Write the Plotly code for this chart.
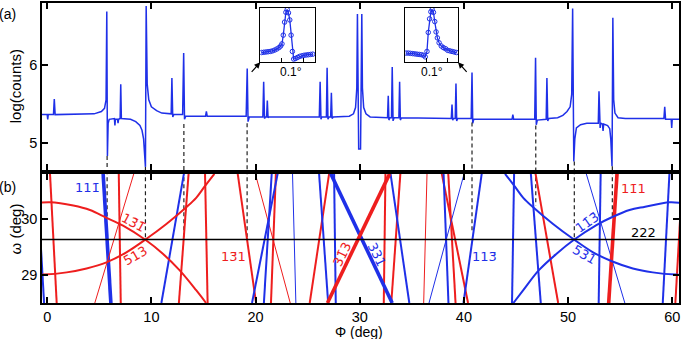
import plotly.graph_objects as go

BLUE = "#1f30e8"
RED = "#ee1e1e"

# ---------------- panel (a): measured scan ----------------
phi_a = [-0.5, 0.0, 0.05, 0.1, 0.6, 0.68, 0.76, 4.5, 5.2, 5.5, 5.65, 5.72, 5.78, 5.85, 5.95,
         6.45, 6.5, 6.55, 6.75, 6.8, 6.85, 7.0, 7.06, 7.12, 8.0, 8.5, 8.9, 9.1, 9.25, 9.35,
         9.43, 9.5, 9.6, 9.75, 10.0, 10.5, 11.0, 11.9, 11.97, 12.05, 12.15, 13.0, 13.1, 13.18,
         13.3, 15.2, 15.28, 15.36, 19.1, 19.2, 19.28, 19.4, 20.7, 20.78, 20.86, 20.95, 21.06,
         21.13, 21.2, 21.3, 26.12, 26.2, 26.28, 26.35, 26.8, 26.87, 26.95, 27.05, 27.21, 27.28,
         27.35, 27.45, 29.0, 29.4, 29.6, 29.72, 29.78, 29.9, 30.08, 30.2, 30.26, 30.38, 30.6,
         31.0, 32.67, 32.74, 32.8, 32.9, 33.05, 33.12, 33.2, 33.3, 33.76, 33.83, 33.9, 34.0,
         38.79, 38.86, 38.93, 39.0, 39.17, 39.24, 39.31, 39.4, 40.7, 40.78, 40.85, 40.95,
         44.62, 44.7, 44.78, 46.8, 46.88, 46.95, 47.05, 47.9, 47.97, 48.05, 48.15, 49.0, 49.5,
         49.9, 50.2, 50.35, 50.44, 50.55, 50.65, 50.8, 51.2, 51.8, 52.9, 52.97, 53.04, 53.08,
         53.13, 53.3, 53.36, 53.42, 53.8, 54.0, 54.1, 54.22, 54.3, 54.38, 54.5, 54.8, 55.5,
         59.2, 59.28, 59.36, 59.9, 59.95, 60.0, 60.7]
log_a = [5.36, 5.36, 5.30, 5.36, 5.36, 5.56, 5.36, 5.37, 5.40, 5.44, 5.55, 6.68, 4.83, 5.25, 5.30,
         5.31, 5.22, 5.30, 5.30, 5.25, 5.30, 5.31, 5.75, 5.31, 5.30, 5.27, 5.22, 5.16, 5.05, 4.90,
         4.69, 6.75, 5.75, 5.55, 5.46, 5.41, 5.38, 5.37, 5.83, 5.33, 5.36, 5.36, 6.15, 5.30,
         5.34, 5.34, 5.40, 5.34, 5.34, 5.95, 5.27, 5.33, 5.33, 5.78, 5.31, 5.33, 5.33,
         5.54, 5.32, 5.33, 5.33, 5.78, 5.30, 5.33, 5.33, 5.96, 5.30, 5.33, 5.33, 5.64,
         5.31, 5.33, 5.34, 5.37, 5.45, 5.70, 6.65, 4.92, 4.92, 6.65, 5.70, 5.45, 5.37,
         5.33, 5.32, 5.60, 5.29, 5.32, 5.32, 5.97, 5.28, 5.32, 5.32, 5.78, 5.29, 5.32,
         5.31, 5.49, 5.29, 5.31, 5.31, 5.76, 5.28, 5.31, 5.31, 5.90, 5.25, 5.30,
         5.30, 5.36, 5.30, 5.30, 6.09, 5.23, 5.29, 5.30, 5.83, 5.28, 5.31, 5.32, 5.35,
         5.40, 5.46, 5.62, 6.72, 4.76, 5.05, 5.19, 5.23, 5.25, 5.25, 5.66, 5.24, 5.19,
         5.25, 5.24, 5.15, 5.24, 5.22, 5.18, 5.05, 4.70, 6.60, 5.55, 5.38, 5.32, 5.31,
         5.31, 5.46, 5.30, 5.30, 5.19, 5.30, 5.30]

# insets (offset in deg, normalised intensity)
ins1_d = [-0.092, -0.082, -0.072, -0.062, -0.052, -0.042, -0.032, -0.022, -0.012, -0.004, 0.002,
          0.008, 0.014, 0.020, 0.026, 0.032, 0.038, 0.044, 0.050, 0.056, 0.064, 0.074, 0.084,
          0.094, 0.104, 0.114, 0.124, 0.134, 0.144]
ins1_y = [0.18, 0.185, 0.19, 0.195, 0.20, 0.21, 0.225, 0.245, 0.27, 0.30, 0.34,
          0.50, 0.74, 0.92, 0.97, 0.91, 0.78, 0.50, 0.20, 0.06, 0.07, 0.09, 0.11,
          0.12, 0.13, 0.135, 0.14, 0.145, 0.15]
ins2_d = [-0.092, -0.082, -0.072, -0.062, -0.052, -0.042, -0.032, -0.022, -0.012, -0.004, 0.004,
          0.010, 0.016, 0.022, 0.028, 0.034, 0.040, 0.046, 0.052, 0.060, 0.070, 0.080, 0.090,
          0.100, 0.110, 0.120, 0.130, 0.140]
ins2_y = [0.17, 0.17, 0.165, 0.16, 0.155, 0.15, 0.145, 0.14, 0.13, 0.10, 0.20,
          0.55, 0.80, 0.93, 0.97, 0.92, 0.75, 0.56, 0.45, 0.36, 0.30, 0.27, 0.25,
          0.22, 0.21, 0.20, 0.19, 0.18]

# dashed markers linking (a) and (b)
dash_phi = [5.75, 9.43, 13.12, 19.19, 40.78, 46.9, 50.6, 54.25]
dash_a_from = [4.83, 4.69, 5.24, 5.25, 5.26, 5.22, 4.76, 4.70]
dash_b_to = [30.03, 29.63, 29.66, 29.63, 29.76, 30.24, 29.63, 30.05]

# ---------------- panel (b): simulated lines ----------------
OM_TOP, OM_BOT = 30.81, 28.49
line_phi_top = [0.27, 5.37, 8.31, 6.87, 13.12, 13.57, 15.15, 18.29, 19.98, 22.12, 21.55, 21.95,
                23.55, 27.06, 26.10, 27.54, 32.87, 27.22, -1.0,
                59.73, 54.70, 51.75, 53.13, 46.88, 46.43, 44.82, 41.71, 40.02, 37.88, 38.50,
                38.05, 36.46, 32.96, 33.90, 32.47, 61.0]
line_phi_bot = [0.91, 6.11, 4.57, 7.06, 10.96, 12.64, 15.40, 20.05, 23.33, 19.66, 20.80, 21.48,
                23.87, 25.20, 26.97, 27.70, 26.90, 33.12, -0.3,
                59.09, 53.90, 55.45, 52.94, 49.05, 47.38, 44.62, 39.96, 36.65, 40.40, 39.20,
                38.52, 36.14, 34.76, 33.03, 32.31, 60.3]
line_domain = ["r", "b", "r", "r", "b", "r", "r", "r", "r", "b", "b", "r",
               "b", "r", "b", "b", "r", "b", "b",
               "b", "r", "b", "b", "r", "b", "b", "b", "b", "r", "r",
               "b", "r", "b", "r", "r", "r"]
line_strength = ["m", "s", "w", "m", "m", "m", "m", "m", "w", "m", "m", "m",
                 "w", "m", "m", "m", "s", "s", "m",
                 "m", "s", "w", "m", "m", "m", "m", "m", "w", "m", "m",
                 "m", "w", "m", "m", "m", "m"]

curveA_phi = [-0.69, 0.27, 2.5, 4.1, 5.69, 7.28, 9.39, 11.1, 12.7, 14.3, 15.25]
curveA_om = [30.29, 30.30, 30.24, 30.16, 30.02, 29.88, 29.63, 29.375, 29.08, 28.72, 28.49]
curveB_phi = [-0.69, -0.37, 1.87, 3.78, 5.69, 7.6, 9.43, 11.44, 13.35, 14.3, 15.1, 16.05]
curveB_om = [29.0, 29.0, 29.04, 29.11, 29.22, 29.40, 29.63, 29.91, 30.21, 30.38, 30.58, 30.81]
curveC_phi = [44.75, 45.7, 47.2, 48.9, 50.6, 52.72, 54.2, 55.9, 57.4, 59.73, 60.7]
curveC_om = [28.49, 28.72, 29.08, 29.375, 29.63, 29.89, 30.03, 30.16, 30.22, 30.30, 30.29]
curveD_phi = [43.95, 44.9, 45.7, 46.65, 48.56, 50.57, 52.4, 54.2, 56.22, 58.13, 60.37, 60.7]
curveD_om = [30.81, 30.58, 30.38, 30.21, 29.91, 29.63, 29.40, 29.24, 29.11, 29.04, 29.0, 29.0]
omega_scan = 29.63

labels = [
    # text, phi, omega, colour, angle
    ("11" + "1\u0304", 3.86, 30.56, BLUE, 0),
    ("13\u03041\u0304", 8.25, 29.93, RED, 28),
    ("513", 8.5, 29.34, RED, -30),
    ("13\u03041", 17.88, 29.33, RED, 0),
    ("31\u03043", 28.31, 29.36, RED, -64),
    ("331", 31.66, 29.37, BLUE, 64),
    ("113\u0304", 42.0, 29.33, BLUE, 0),
    ("11\u03043\u0304", 51.85, 29.93, BLUE, -35),
    ("531", 51.56, 29.36, BLUE, 30),
    ("11\u03041", 56.3, 30.54, RED, 0),
    ("222", 57.2, 29.76, "black", 0),
]

XR = [-0.5, 60.65]
fig = go.Figure()

fig.add_trace(go.Scatter(x=phi_a, y=log_a, mode="lines", line=dict(color=BLUE, width=1.5),
                         xaxis="x", yaxis="y", showlegend=False, hoverinfo="skip"))

# dashed lines
for p, a0, b1 in zip(dash_phi, dash_a_from, dash_b_to):
    fig.add_trace(go.Scatter(x=[p, p], y=[a0, 4.5], mode="lines",
                             line=dict(color="#222", width=1.2, dash="4px,3px"),
                             xaxis="x", yaxis="y", showlegend=False, hoverinfo="skip"))
    fig.add_trace(go.Scatter(x=[p, p], y=[31.0, b1], mode="lines",
                             line=dict(color="#222", width=1.2, dash="4px,3px"),
                             xaxis="x2", yaxis="y2", showlegend=False, hoverinfo="skip"))

# straight lines in (b)
widths = {"s": 3.6, "m": 2.0, "w": 1.0}
cols = {"r": RED, "b": BLUE}
groups = {}
for pt, pb, d, s in zip(line_phi_top, line_phi_bot, line_domain, line_strength):
    g = groups.setdefault((d, s), ([], []))
    g[0].extend([pt, pb, None])
    g[1].extend([OM_TOP, OM_BOT, None])
for (d, s), (xs, ys) in groups.items():
    fig.add_trace(go.Scatter(x=xs, y=ys, mode="lines", line=dict(color=cols[d], width=widths[s]),
                             xaxis="x2", yaxis="y2", showlegend=False, hoverinfo="skip"))

for cx, cy, c in [(curveA_phi, curveA_om, RED), (curveB_phi, curveB_om, RED),
                  (curveC_phi, curveC_om, BLUE), (curveD_phi, curveD_om, BLUE)]:
    fig.add_trace(go.Scatter(x=cx, y=cy, mode="lines", line=dict(color=c, width=2.0, shape="spline"),
                             xaxis="x2", yaxis="y2", showlegend=False, hoverinfo="skip"))

fig.add_trace(go.Scatter(x=XR, y=[omega_scan, omega_scan], mode="lines",
                         line=dict(color="black", width=1.5),
                         xaxis="x2", yaxis="y2", showlegend=False, hoverinfo="skip"))

# insets
for d, yv, xa, ya in [(ins1_d, ins1_y, "x3", "y3"), (ins2_d, ins2_y, "x4", "y4")]:
    fig.add_trace(go.Scatter(x=d, y=yv, mode="lines+markers",
                             line=dict(color=BLUE, width=1.3),
                             marker=dict(symbol="circle-open", size=4.5, color=BLUE, line=dict(width=1)),
                             xaxis=xa, yaxis=ya, showlegend=False, hoverinfo="skip"))

FONT = "Liberation Sans, Arial, sans-serif"
ax_common = dict(showline=True, linecolor="black", linewidth=1.5, mirror="ticks",
                 ticks="inside", ticklen=6, tickwidth=1.5, tickcolor="black",
                 showgrid=False, zeroline=False, tickfont=dict(family=FONT, size=14.5, color="black"))

fig.update_layout(
    width=682, height=339, margin=dict(l=42, r=1, t=1, b=36),
    paper_bgcolor="white", plot_bgcolor="white",
    xaxis=dict(domain=[0, 1], range=XR, anchor="y", tickvals=[0, 10, 20, 30, 40, 50, 60],
               showticklabels=False, **ax_common),
    yaxis=dict(domain=[0.4437, 1], range=[4.652, 6.79], anchor="x", tickvals=[5, 6], **ax_common),
    xaxis2=dict(domain=[0, 1], range=XR, anchor="y2", tickvals=[0, 10, 20, 30, 40, 50, 60], **ax_common),
    yaxis2=dict(domain=[0, 0.4305], range=[OM_BOT, OM_TOP], anchor="x2", tickvals=[29, 30], **ax_common),
    xaxis3=dict(domain=[0.3427, 0.4288], range=[-0.098, 0.155], anchor="y3", tickvals=[0, 0.1],
                showticklabels=False, showline=True, mirror=True, linecolor="black", linewidth=1.2,
                ticks="inside", ticklen=4, tickcolor="black", showgrid=False, zeroline=False),
    yaxis3=dict(domain=[0.8023, 0.9834], range=[0, 1], anchor="x3", showticklabels=False,
                showline=True, mirror=True, linecolor="black", linewidth=1.2, ticks="",
                showgrid=False, zeroline=False),
    xaxis4=dict(domain=[0.5692, 0.6531], range=[-0.0995, 0.1475], anchor="y4", tickvals=[0, 0.1],
                showticklabels=False, showline=True, mirror=True, linecolor="black", linewidth=1.2,
                ticks="inside", ticklen=4, tickcolor="black", showgrid=False, zeroline=False),
    yaxis4=dict(domain=[0.8023, 0.9834], range=[0, 1], anchor="x4", showticklabels=False,
                showline=True, mirror=True, linecolor="black", linewidth=1.2, ticks="",
                showgrid=False, zeroline=False),
)

ann = []
for t, p, o, c, a in labels:
    ann.append(dict(text=t, x=p, y=o, xref="x2", yref="y2", showarrow=False, textangle=a,
                    xanchor="center", yanchor="middle",
                    font=dict(family="DejaVu Sans, sans-serif", size=13, color=c)))
C = dict(xref="paper", yref="paper", showarrow=False, xanchor="center", yanchor="middle")
ann += [
    dict(text="(a)", x=-0.054, y=0.9636, font=dict(family=FONT, size=14, color="black"), **C),
    dict(text="(b)", x=-0.054, y=0.387, font=dict(family=FONT, size=14, color="black"), **C),
    dict(text="log(counts)", x=-0.041, y=0.722, textangle=-90,
         font=dict(family=FONT, size=15, color="black"), **C),
    dict(text="\u03c9 (deg)", x=-0.041, y=0.248, textangle=-90,
         font=dict(family=FONT, size=15, color="black"), **C),
    dict(text="\u03a6 (deg)", x=0.4977, y=-0.098, font=dict(family=FONT, size=14, color="black"), **C),
    dict(text="0.1\u00b0", x=0.3908, y=0.7715, font=dict(family=FONT, size=12, color="black"), **C),
    dict(text="0.1\u00b0", x=0.613, y=0.7715, font=dict(family=FONT, size=12, color="black"), **C),
    dict(text="", x=0.3427, y=0.8023, xref="paper", yref="paper", showarrow=True,
         ax=-10, ay=11, arrowhead=2, arrowsize=1, arrowwidth=1.2, arrowcolor="black"),
    dict(text="", x=0.6531, y=0.8023, xref="paper", yref="paper", showarrow=True,
         ax=10, ay=11, arrowhead=2, arrowsize=1, arrowwidth=1.2, arrowcolor="black"),
]
fig.update_layout(annotations=ann)

fig.write_html("out.html", config={"displayModeBar": False},
               post_script="document.body.style.margin='0px';")
